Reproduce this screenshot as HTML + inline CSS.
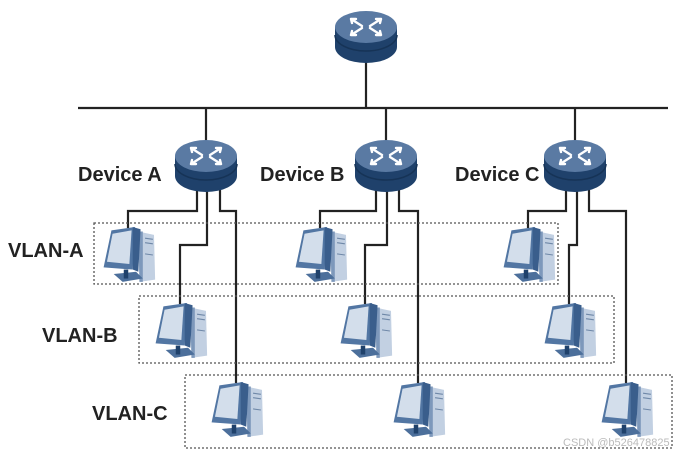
<!DOCTYPE html>
<html><head><meta charset="utf-8"><style>
html,body{margin:0;padding:0;background:#fff;}
svg{display:block}
text{font-family:"Liberation Sans",sans-serif;font-weight:bold;fill:#222;}
</style></head><body>
<svg width="694" height="456" viewBox="0 0 694 456" xmlns="http://www.w3.org/2000/svg">
<defs>
<g id="rt">
<path d="M-31,0 L-31,20 A31,16 0 0 0 31,20 L31,0 Z" fill="#1f416b"/>
<path d="M-31,8 A31,16 0 0 0 31,8" stroke="#163356" stroke-width="1.5" fill="none"/>
<ellipse cx="0" cy="0" rx="31" ry="16" fill="#5a7aa3"/>
<g stroke="#fff" stroke-width="2.4" fill="none" stroke-linecap="round">
<path d="M-15,-8 L-4,-1 M-15,-8 L-10,-8 M-15,-8 L-14,-4"/>
<path d="M15,-8 L4,-1 M15,-8 L10,-8 M15,-8 L14,-4"/>
<path d="M-15,8 L-4,1 M-15,8 L-10,8 M-15,8 L-14,4"/>
<path d="M15,8 L4,1 M15,8 L10,8 M15,8 L14,4"/>
</g>
</g>
<g id="pc" transform="scale(1.12)">
<path d="M36,4 L50,7 L51,47 L37,49 Z" fill="#c2d0e2"/>
<path d="M36,4 L40,4 L40,49 L37,49 Z" fill="#7d98bb"/>
<path d="M42,10 L49,11 M42,14 L49,15 M42,24 L49,25" stroke="#6f88a8" stroke-width="1"/>
<path d="M12,3 L33,0 L31,38 L5,36 Z" fill="#5276a3"/>
<path d="M13,6 L30,3 L28,33 L8,31 Z" fill="#d3deeb"/>
<path d="M31,0 L38,2 L36,40 L31,38 Z" fill="#3a5e8c"/>
<path d="M14,42 L34,40 L40,46 L22,49 Z" fill="#4c6f9b"/>
<rect x="23" y="38" width="4" height="8" fill="#1f416b"/>
</g>
</defs>

<g stroke="#222" stroke-width="2.2" fill="none">
<line x1="78" y1="108" x2="668" y2="108"/>
<line x1="366" y1="50" x2="366" y2="108"/>
<line x1="206" y1="108" x2="206" y2="145"/>
<line x1="386" y1="108" x2="386" y2="145"/>
<line x1="575" y1="108" x2="575" y2="145"/>
<polyline points="197,185 197,211 128,211 128,228"/>
<polyline points="207,185 207,245 180,245 180,304"/>
<polyline points="220,185 220,211 236,211 236,383"/>
<polyline points="376,185 376,211 320,211 320,228"/>
<polyline points="387,185 387,245 365,245 365,304"/>
<polyline points="399,185 399,211 418,211 418,383"/>
<polyline points="566,185 566,211 528,211 528,228"/>
<polyline points="577,185 577,245 569,245 569,304"/>
<polyline points="589,185 589,211 626,211 626,383"/>
</g>

<g stroke="#555" stroke-width="1.3" stroke-dasharray="2,2" fill="none">
<rect x="94" y="223" width="464" height="61"/>
<rect x="139" y="296" width="475" height="67"/>
<rect x="185" y="375" width="487" height="73"/>
</g>

<use href="#rt" x="366" y="27"/>
<use href="#rt" x="206" y="156"/>
<use href="#rt" x="386" y="156"/>
<use href="#rt" x="575" y="156"/>

<use href="#pc" x="98" y="227"/>
<use href="#pc" x="290" y="227"/>
<use href="#pc" x="498" y="227"/>
<use href="#pc" x="150" y="303"/>
<use href="#pc" x="335" y="303"/>
<use href="#pc" x="539" y="303"/>
<use href="#pc" x="206" y="382"/>
<use href="#pc" x="388" y="382"/>
<use href="#pc" x="596" y="382"/>

<text x="78" y="181" font-size="20">Device A</text>
<text x="260" y="181" font-size="20">Device B</text>
<text x="455" y="181" font-size="20">Device C</text>
<text x="8" y="257" font-size="20">VLAN-A</text>
<text x="42" y="342" font-size="20">VLAN-B</text>
<text x="92" y="420" font-size="20">VLAN-C</text>
<text x="563" y="446" font-size="11" style="font-weight:normal;fill:#bbb">CSDN @b526478825</text>
</svg>
</body></html>
